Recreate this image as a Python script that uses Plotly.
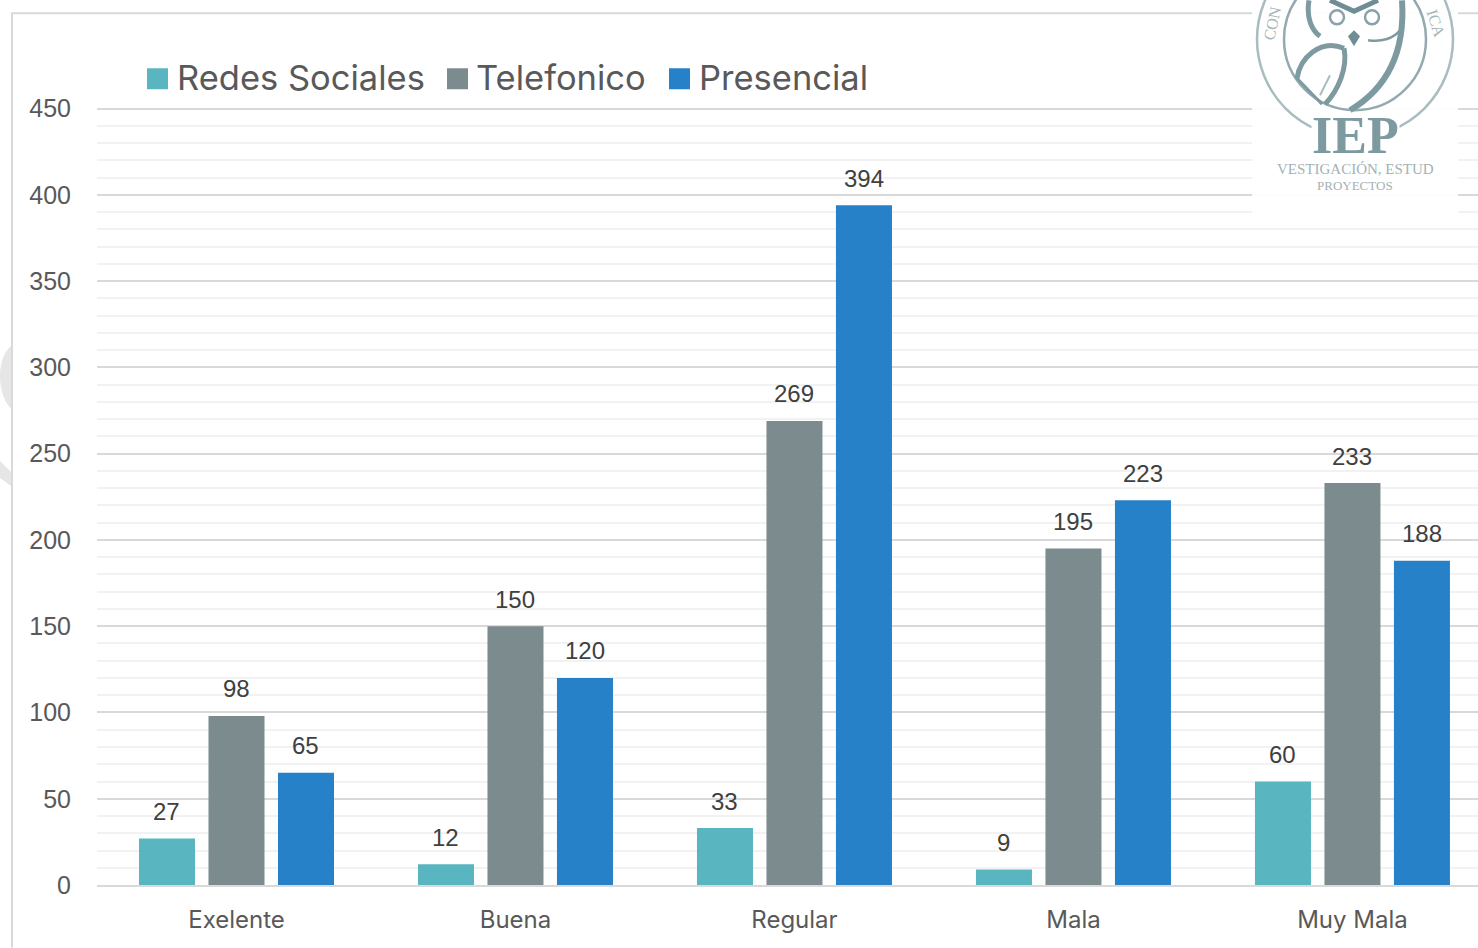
import plotly.graph_objects as go

categories = ["Exelente", "Buena", "Regular", "Mala", "Muy Mala"]
redes = [27, 12, 33, 9, 60]
telefonico = [98, 150, 269, 195, 233]
presencial = [65, 120, 394, 223, 188]
series = [("Redes Sociales", redes, "#59b6c0"),
          ("Telefonico", telefonico, "#7b8b8e"),
          ("Presencial", presencial, "#2681c8")]

W, H = 1478, 948
L, T, B = 97, 106.77, 62.5
step = 69.5

def px(x): return (x - L) / (W - L)
def py(y): return (H - B - y) / (H - B - T)

def path(d, **kw):
    """d is a list of commands in page pixels, converted to paper coordinates."""
    parts = []
    for cmd, *pts in d:
        coords = " ".join(f"{px(x):.5f},{py(y):.5f}" for x, y in pts)
        parts.append(f"{cmd} {coords}")
    return dict(type="path", xref="paper", yref="paper", path=" ".join(parts), **kw)

fig = go.Figure()
annotations = []
for i, (name, vals, col) in enumerate(series):
    fig.add_trace(go.Bar(name=name, x=categories, y=vals, marker=dict(color=col, line_width=0),
                         showlegend=False))
    for c, v in zip(categories, vals):
        annotations.append(dict(x=c, y=v, xref="x", yref="y", text=str(v), showarrow=False,
                                xshift=(i - 1) * step, yshift=27, yanchor="middle",
                                font=dict(family="Liberation Sans", size=24, color="#404040")))

shapes = []
# faint watermark fragments at the left edge
shapes.append(path([("M", (12, 345)), ("C", (4, 352), (0, 362), (0, 376)), ("C", (0, 390), (4, 402), (12, 410)), ("Z",)],
                   fillcolor="#e6e6e6", line_width=0, layer="below"))
shapes.append(path([("M", (0, 461)), ("L", (12, 473)), ("L", (12, 487)), ("L", (0, 478)), ("Z",)],
                   fillcolor="#e6e6e6", line_width=0, layer="below"))
# chart frame
shapes.append(path([("M", (12, 948)), ("L", (12, 13)), ("L", (1478, 13))],
                   line=dict(color="#d9d9d9", width=2), layer="below"))

# manual legend
for (name, _, col), sx, tx in zip(series, [147, 447, 669], [178, 477, 700]):
    shapes.append(dict(type="rect", xref="paper", yref="paper", x0=px(sx), x1=px(sx + 21),
                       y0=py(68), y1=py(89), fillcolor=col, line_width=0))
    annotations.append(dict(x=px(tx), y=py(77), xref="paper", yref="paper", text=name, showarrow=False,
                            xanchor="left", yanchor="middle", xshift=-3,
                            font=dict(family="Inter", size=34.5, color="#595959")))

# logo (approximate, sits over the gridlines)
cx, cy = 1355, 39
shapes.append(dict(type="rect", xref="paper", yref="paper", x0=px(1252), x1=px(1458), y0=py(0), y1=py(220),
                   fillcolor="rgba(255,255,255,0.93)", line_width=0))
for r, c, w in [(98, "#a9bcc0", 2.5), (71, "#93aab0", 2.5)]:
    shapes.append(dict(type="circle", xref="paper", yref="paper", x0=px(cx - r), x1=px(cx + r),
                       y0=py(cy - r), y1=py(cy + r), line=dict(color=c, width=w)))
owl = dict(color="#7e9aa1", width=5)
shapes += [
    path([("M", (1309, 0)), ("C", (1306, 18), (1312, 30), (1320, 36))], line=owl),
    path([("M", (1344, 48)), ("C", (1320, 38), (1300, 58), (1297, 78))], line=owl),
    path([("M", (1344, 48)), ("C", (1348, 68), (1338, 90), (1325, 104))], line=owl),
    path([("M", (1297, 78)), ("L", (1322, 104))], line=dict(color="#7e9aa1", width=3)),
    path([("M", (1320, 95)), ("L", (1330, 75))], line=dict(color="#a9bcc0", width=2)),
    path([("M", (1402, 0)), ("C", (1405, 45), (1392, 85), (1350, 110))], line=dict(color="#7e9aa1", width=6)),
    path([("M", (1368, 40)), ("C", (1382, 42), (1394, 38), (1400, 30))], line=dict(color="#7e9aa1", width=2.5)),
    path([("M", (1330, 0)), ("L", (1354, 11)), ("L", (1378, 0))], line=dict(color="#6f8d94", width=5)),
    path([("M", (1354, 30)), ("L", (1360, 36)), ("L", (1354, 46)), ("L", (1348, 36)), ("Z",)],
         fillcolor="#6f8d94", line_width=0),
]
for ex in (1337, 1372):
    shapes.append(dict(type="circle", xref="paper", yref="paper", x0=px(ex - 7), x1=px(ex + 7),
                       y0=py(24), y1=py(10), line=dict(color="#8aa3a8", width=2.5)))
logo_text = [("IEP", 1355, 135, 52, "#7e9aa1", 0, 700), ("VESTIGACIÓN, ESTUD", 1355, 169, 15, "#a3b2b5", 0, 400),
             ("PROYECTOS", 1355, 185, 13, "#a3b2b5", 0, 400), ("CON", 1272, 23, 16, "#a3b5b9", -78, 400),
             ("ICA", 1436, 23, 16, "#a3b5b9", 72, 400)]
for txt, x, y, size, col, rot, wt in logo_text:
    annotations.append(dict(x=px(x), y=py(y), xref="paper", yref="paper", text=txt, showarrow=False,
                            xanchor="center", yanchor="middle",
                            textangle=rot, bgcolor="white" if txt == "IEP" else None,
                            borderpad=0, height=38 if txt == "IEP" else None,
                            font=dict(family="Liberation Serif", size=size, color=col, weight=wt)))

fig.update_layout(
    width=W, height=H, margin=dict(l=L, r=0, t=T, b=B, pad=0),
    paper_bgcolor="white", plot_bgcolor="white",
    barmode="group", bargap=0.2527, bargroupgap=0.194,
    shapes=shapes, annotations=annotations,
    xaxis=dict(range=[-0.5, 4.45], showgrid=False, showline=True, linecolor="#d9d9d9", linewidth=2,
               ticks="", ticklabelstandoff=12, tickfont=dict(family="Inter", size=24, color="#595959")),
    yaxis=dict(range=[0, 451], tick0=0, dtick=50, showgrid=True, gridcolor="#d9d9d9", gridwidth=2, zeroline=False,
               ticks="", ticklabelstandoff=25, tickfont=dict(family="Liberation Sans", size=25, color="#595959"),
               minor=dict(dtick=10, showgrid=True, gridcolor="#f2f2f2", gridwidth=2, ticks="")),
)
fig.write_html("out.html", config={"displayModeBar": False}, post_script="document.body.style.margin='0';")
